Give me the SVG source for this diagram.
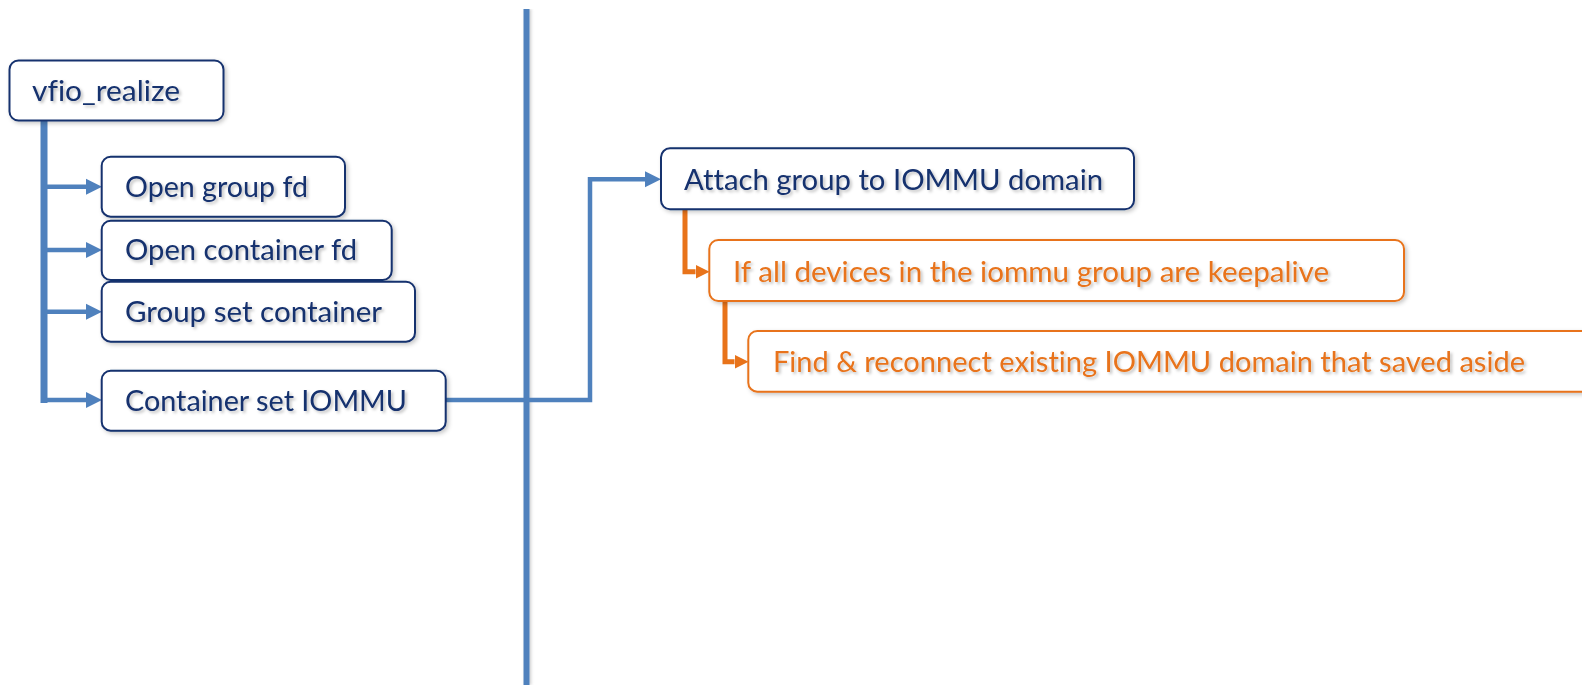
<svg xmlns="http://www.w3.org/2000/svg" width="1582" height="685" viewBox="0 0 1582 685">
  <style>
    .box { fill: #ffffff; stroke-width: 2; filter: url(#shadow); }
    .navy { stroke: #14306e; }
    .orange { stroke: #e8731a; }
    .label { font-family: Lato, "Liberation Sans", sans-serif; font-size: 28px; font-variant-ligatures: none; filter: url(#tshadow); }
    .navy-text { fill: #14306e; }
    .orange-text { fill: #e8731a; }
    .blue-line { fill: none; stroke: #4f81bd; stroke-width: 4.5; }
    .orange-line { fill: none; stroke: #e8731a; stroke-width: 5; }
  </style>
  <defs>
    <filter id="shadow" x="-10%" y="-20%" width="130%" height="160%">
      <feDropShadow dx="2" dy="2" stdDeviation="2" flood-color="#000" flood-opacity="0.22"/>
    </filter>
    <filter id="tshadow" x="-5%" y="-20%" width="115%" height="160%">
      <feDropShadow dx="2" dy="2" stdDeviation="1.5" flood-color="#000" flood-opacity="0.25"/>
    </filter>
    <filter id="lshadow" x="-100%" y="0%" width="300%" height="100%">
      <feDropShadow dx="1.5" dy="0" stdDeviation="1.5" flood-color="#000" flood-opacity="0.2"/>
    </filter>
    <marker id="arrow-blue" markerUnits="userSpaceOnUse" viewBox="0 0 10 10" refX="0" refY="5" markerWidth="16" markerHeight="17" orient="auto">
      <path d="M0,0 L10,5 L0,10 z" fill="#4f81bd"/>
    </marker>
    <marker id="arrow-orange" markerUnits="userSpaceOnUse" viewBox="0 0 10 10" refX="0" refY="5" markerWidth="14" markerHeight="16" orient="auto">
      <path d="M0,0 L10,5 L0,10 z" fill="#e8731a"/>
    </marker>
  </defs>

  <!-- divider -->
  <rect x="523.5" y="9" width="6" height="676" fill="#4f81bd" filter="url(#lshadow)"/>

  <g id="connectors">
    <!-- trunk from vfio_realize -->
    <rect x="40.5" y="121" width="7" height="282" fill="#4f81bd"/>
    <path class="blue-line" d="M44,186.7 H86" marker-end="url(#arrow-blue)"/>
    <path class="blue-line" d="M44,250 H86" marker-end="url(#arrow-blue)"/>
    <path class="blue-line" d="M44,311.7 H86" marker-end="url(#arrow-blue)"/>
    <path class="blue-line" d="M44,400 H86" marker-end="url(#arrow-blue)"/>
    <!-- Container set IOMMU to Attach -->
    <path class="blue-line" d="M445.7,400 H590 V179.3 H645" marker-end="url(#arrow-blue)"/>
    <!-- Attach to keepalive check -->
    <path class="orange-line" d="M685,209 V271.7 H695.5" marker-end="url(#arrow-orange)"/>
    <!-- keepalive check to reconnect -->
    <path class="orange-line" d="M725,301 V361.7 H734.5" marker-end="url(#arrow-orange)"/>
  </g>

  <g id="vfio_realize">
    <rect class="box navy" x="9.5" y="60.5" width="214" height="60" rx="9"/>
    <text class="label navy-text" x="32" y="100.5" textLength="148" lengthAdjust="spacingAndGlyphs">vfio_realize</text>
  </g>

  <g id="open_group_fd">
    <rect class="box navy" x="101.7" y="156.7" width="243.3" height="60" rx="9"/>
    <text class="label navy-text" x="125" y="196.7" textLength="183" lengthAdjust="spacingAndGlyphs">Open group fd</text>
  </g>

  <g id="open_container_fd">
    <rect class="box navy" x="101.7" y="220.7" width="290" height="59.3" rx="9"/>
    <text class="label navy-text" x="125" y="260" textLength="232" lengthAdjust="spacingAndGlyphs">Open container fd</text>
  </g>

  <g id="group_set_container">
    <rect class="box navy" x="101.7" y="281.7" width="313.3" height="60" rx="9"/>
    <text class="label navy-text" x="125" y="321.7" textLength="257" lengthAdjust="spacingAndGlyphs">Group set container</text>
  </g>

  <g id="container_set_iommu">
    <rect class="box navy" x="101.7" y="370.7" width="344" height="60" rx="9"/>
    <text class="label navy-text" x="125" y="410.7" textLength="282" lengthAdjust="spacingAndGlyphs">Container set IOMMU</text>
  </g>

  <g id="attach_group">
    <rect class="box navy" x="661" y="148.3" width="473" height="61" rx="9"/>
    <text class="label navy-text" x="684" y="190" textLength="419" lengthAdjust="spacingAndGlyphs">Attach group to IOMMU domain</text>
  </g>

  <g id="keepalive_check">
    <rect class="box orange" x="709.3" y="240" width="694.7" height="61" rx="9"/>
    <text class="label orange-text" x="733" y="281.7" textLength="596" lengthAdjust="spacingAndGlyphs">If all devices in the iommu group are keepalive</text>
  </g>

  <g id="reconnect_domain">
    <rect class="box orange" x="748.3" y="331" width="860" height="60.7" rx="9"/>
    <text class="label orange-text" x="773" y="371.7" textLength="752" lengthAdjust="spacingAndGlyphs">Find &amp; reconnect existing IOMMU domain that saved aside</text>
  </g>
</svg>
